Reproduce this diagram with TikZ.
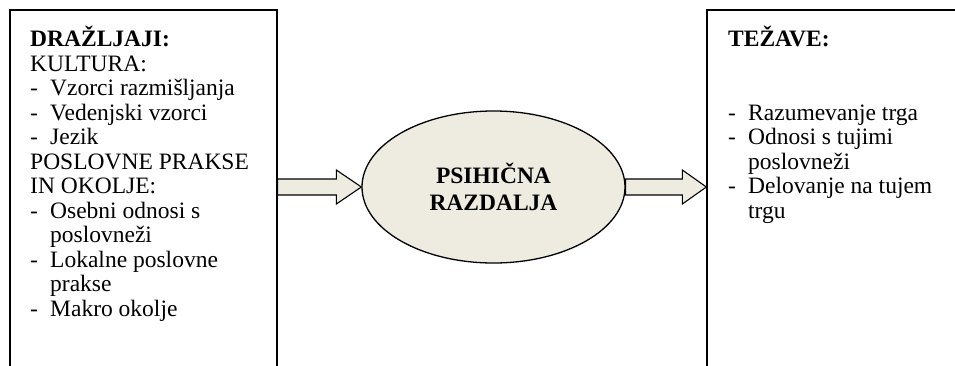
\documentclass[tikz,border=0pt]{standalone}
\usepackage{fontspec}
\setmainfont{Liberation Serif}
\usetikzlibrary{calc,shapes.geometric}
\definecolor{beige}{HTML}{EEECE1}
\newcommand\dsh{\makebox[20pt][l]{-}}
\newcommand\ind{\hspace*{20pt}}
\tikzset{
 frame/.style={draw=black, line width=1.3pt, rectangle, inner sep=0pt},
 bubble/.style={ellipse, draw=black, line width=1.3pt, fill=beige, minimum width=263pt, minimum height=152pt, inner sep=0pt, font=\fontsize{23.5}{27}\selectfont\bfseries, align=center},
 txt/.style={anchor=north west, inner sep=0pt, font=\fontsize{23.5}{24.5}\selectfont},
 blockarrow/.style={draw=black, line width=1.1pt, fill=beige, line join=miter}
}
\begin{document}
\begin{tikzpicture}[x=1pt,y=-1pt]
\useasboundingbox (0,0) rectangle (955,365);
\node[frame, minimum width=267pt, minimum height=410pt] (L) at (143.5,215) {};
\node[frame, minimum width=293pt, minimum height=410pt] (R) at (853.5,215) {};
\node[bubble] (E) at (493.5,187) {PSIHIČNA\\RAZDALJA};
\node[txt] (LT) at (30,26.3) {\begin{tabular}{@{}l@{}}
\textbf{DRAŽLJAJI:}\\
KULTURA:\\
\dsh Vzorci razmišljanja\\
\dsh Vedenjski vzorci\\
\dsh Jezik\\
POSLOVNE PRAKSE\\
IN OKOLJE:\\
\dsh Osebni odnosi s\\
\ind poslovneži\\
\dsh Lokalne poslovne\\
\ind prakse\\
\dsh Makro okolje
\end{tabular}};
\node[txt] (RT) at (728,26.3) {\begin{tabular}{@{}l@{}}
\textbf{TEŽAVE:}\\
\\
\\
\dsh Razumevanje trga\\
\dsh Odnosi s tujimi\\
\ind poslovneži\\
\dsh Delovanje na tujem\\
\ind trgu
\end{tabular}};
\draw[blockarrow] let \p1=(L.east |- E.west), \p2=(E.west) in
 (\x1,\y2+8pt) -- (\x2-25pt,\y2+8pt) -- (\x2-25pt,\y2+17pt) -- (\x2,\y2)
 -- (\x2-25pt,\y2-17pt) -- (\x2-25pt,\y2-8pt) -- (\x1,\y2-8pt) -- cycle;
\draw[blockarrow] let \p1=(E.east), \p2=(R.west |- E.east) in
 (\x1,\y2+8pt) -- (\x2-24pt,\y2+8pt) -- (\x2-24pt,\y2+17pt) -- (\x2,\y2)
 -- (\x2-24pt,\y2-17pt) -- (\x2-24pt,\y2-8pt) -- (\x1,\y2-8pt) -- cycle;
\end{tikzpicture}
\end{document}
